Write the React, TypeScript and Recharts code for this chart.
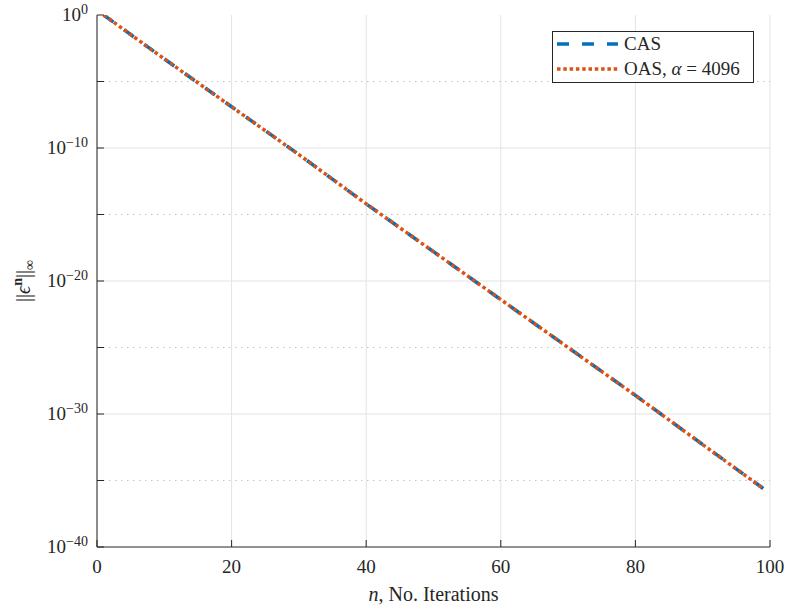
import {
    LineChart,
    Line,
    XAxis,
    YAxis,
    CartesianGrid,
    ReferenceLine,
    Legend,
} from 'recharts'

const iterations = [1, 10, 20, 30, 40, 50, 60, 70, 80, 90, 99]
const casError = [1, 5.0e-4, 1.26e-7, 3.2e-11, 6.3e-15, 1.6e-18, 4.0e-22, 1.0e-25, 2.5e-29, 5.0e-33, 2.5e-36]
const oasError = [1, 5.0e-4, 1.26e-7, 3.2e-11, 6.3e-15, 1.6e-18, 4.0e-22, 1.0e-25, 2.5e-29, 5.0e-33, 2.5e-36]

const xTicks = [0, 20, 40, 60, 80, 100]
const yTicks = [1e-40, 1e-35, 1e-30, 1e-25, 1e-20, 1e-15, 1e-10, 1e-5, 1]
const majorLines = [1e-30, 1e-20, 1e-10]
const minorLines = [1e-35, 1e-25, 1e-15, 1e-5]

const data = iterations.map((n, i) => ({ n, cas: casError[i], oas: oasError[i] }))

const FONT = "'Liberation Serif', 'DejaVu Serif', serif"
const INK = '#262626'
const BLUE = '#0072BD'
const ORANGE = '#D95319'

function exponentOf(v: number) {
    return Math.round(Math.log10(v))
}

function LeftTick({ x, y, payload }: any) {
    const e = exponentOf(payload.value)
    return (
        <g>
            <line x1={x} x2={x + 7} y1={y} y2={y} stroke={INK} />
            {e % 10 === 0 && (
                <text x={x - 9} y={y + 5.5} textAnchor="end" fontFamily={FONT} fontSize={19} fill={INK}>
                    10
                    <tspan dy={-7} fontSize={14}>{e === 0 ? '0' : `\u2212${-e}`}</tspan>
                </text>
            )}
        </g>
    )
}

function RightTick({ x, y }: any) {
    return <line x1={x - 7} x2={x} y1={y} y2={y} stroke={INK} />
}

function BottomTick({ x, y, payload }: any) {
    return (
        <g>
            <line x1={x} x2={x} y1={y - 7} y2={y} stroke={INK} />
            <text x={x} y={y + 26} textAnchor="middle" fontFamily={FONT} fontSize={19} fill={INK}>
                {payload.value}
            </text>
        </g>
    )
}

function TopTick({ x, y }: any) {
    return <line x1={x} x2={x} y1={y} y2={y + 7} stroke={INK} />
}

function XTitle({ viewBox }: any) {
    const cx = viewBox.x + viewBox.width / 2
    return (
        <text x={cx} y={viewBox.y + 54} textAnchor="middle" fontFamily={FONT} fontSize={20} fill={INK}>
            <tspan fontStyle="italic">n</tspan>, No. Iterations
        </text>
    )
}

function YTitle({ viewBox }: any) {
    const cx = 30
    const cy = viewBox.y + viewBox.height / 2
    return (
        <text
            x={cx}
            y={cy}
            transform={`rotate(-90 ${cx} ${cy})`}
            textAnchor="middle"
            fontFamily={FONT}
            fontSize={20}
            fill={INK}
        >
            ||<tspan fontStyle="italic">ϵ</tspan>
            <tspan dy={-8} fontSize={14} fontWeight="bold">n</tspan>
            <tspan dy={8}>||</tspan>
            <tspan dy={4} fontSize={14}>∞</tspan>
        </text>
    )
}

function LegendBox() {
    return (
        <svg width={202} height={52} style={{ display: 'block' }}>
            <rect x={0.5} y={0.5} width={201} height={51} fill="#fff" stroke={INK} />
            <line x1={5} x2={66} y1={13} y2={13} stroke={BLUE} strokeWidth={3.5} strokeDasharray="12 13" />
            <text x={72} y={18.5} fontFamily={FONT} fontSize={19} fill={INK}>CAS</text>
            <line x1={5} x2={66} y1={38} y2={38} stroke={ORANGE} strokeWidth={3.5} strokeDasharray="3.5 2.8" />
            <text x={72} y={43.5} fontFamily={FONT} fontSize={19} fill={INK}>
                OAS, <tspan fontStyle="italic">α</tspan> = 4096
            </text>
        </svg>
    )
}

export default function App() {
    return (
        <div style={{ position: 'absolute', left: 0, top: 0, background: '#fff' }}>
            <LineChart width={786} height={611} data={data} margin={{ top: 15, right: 16, left: 0, bottom: 0 }}>
                <CartesianGrid horizontal={false} stroke="#e3e3e3" strokeWidth={1} />
                {majorLines.map((v) => (
                    <ReferenceLine key={v} y={v} stroke="#e3e3e3" strokeWidth={1} />
                ))}
                {minorLines.map((v) => (
                    <ReferenceLine key={v} y={v} stroke="#c4c4c4" strokeWidth={1} strokeDasharray="1.5 4.5" />
                ))}
                <XAxis
                    dataKey="n"
                    type="number"
                    domain={[0, 100]}
                    ticks={xTicks}
                    interval={0}
                    height={64}
                    tickSize={0}
                    tickMargin={0}
                    tickLine={false}
                    axisLine={{ stroke: INK }}
                    tick={<BottomTick />}
                    label={{ content: <XTitle /> }}
                />
                <XAxis
                    xAxisId="top"
                    orientation="top"
                    type="number"
                    domain={[0, 100]}
                    ticks={xTicks}
                    interval={0}
                    height={0}
                    tickSize={0}
                    tickMargin={0}
                    tickLine={false}
                    axisLine={{ stroke: INK }}
                    tick={<TopTick />}
                />
                <YAxis
                    type="number"
                    scale="log"
                    domain={[1e-40, 1]}
                    allowDataOverflow
                    ticks={yTicks}
                    interval={0}
                    width={97}
                    tickSize={0}
                    tickMargin={0}
                    tickLine={false}
                    axisLine={{ stroke: INK }}
                    tick={<LeftTick />}
                    label={{ content: <YTitle /> }}
                />
                <YAxis
                    yAxisId="right"
                    orientation="right"
                    type="number"
                    scale="log"
                    domain={[1e-40, 1]}
                    allowDataOverflow
                    ticks={yTicks}
                    interval={0}
                    width={0}
                    tickSize={0}
                    tickMargin={0}
                    tickLine={false}
                    axisLine={{ stroke: INK }}
                    tick={<RightTick />}
                />
                <Legend
                    layout="vertical"
                    align="center"
                    verticalAlign="middle"
                    wrapperStyle={{ left: 552, top: 31, width: 202 }}
                    content={<LegendBox />}
                />
                <Line
                    dataKey="cas"
                    name="CAS"
                    type="linear"
                    stroke={BLUE}
                    strokeWidth={3.5}
                    strokeDasharray="12 13"
                    dot={false}
                    isAnimationActive={false}
                />
                <Line
                    dataKey="oas"
                    name="OAS, α = 4096"
                    type="linear"
                    stroke={ORANGE}
                    strokeWidth={3.5}
                    strokeDasharray="3.5 2.8"
                    dot={false}
                    isAnimationActive={false}
                />
            </LineChart>
        </div>
    )
}
